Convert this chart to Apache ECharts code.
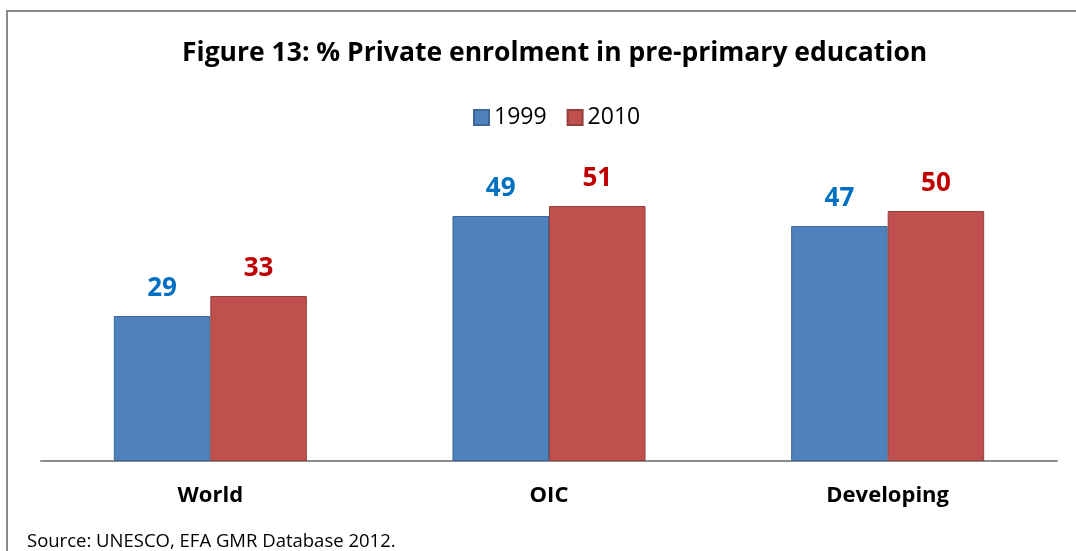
<!DOCTYPE html>
<html>
<head>
<meta charset="utf-8">
<script src="https://cdn.jsdelivr.net/npm/echarts@6/dist/echarts.min.js"></script>
<style>
  html, body { margin: 0; padding: 0; background: #fff; }
  #main { width: 1076px; height: 551px; }
</style>
</head>
<body>
<div id="main"></div>
<script>
// data
const categories = ['World', 'OIC', 'Developing'];
const years = ['1999', '2010'];
const values1999 = [29, 49, 47];
const values2010 = [33, 51, 50];

const FONT = '"Open Sans", "Noto Sans", sans-serif';

const myChart = echarts.init(document.getElementById('main'));

myChart.setOption({
    backgroundColor: '#ffffff',
    animation: false,
    title: {
        text: 'Figure 13: % Private enrolment in pre-primary education',
        left: 177,
        top: 35,
        textStyle: {fontFamily: FONT, fontSize: 26.5, fontWeight: 'bold', color: '#000'}
    },
    legend: {
        data: years,
        top: 101,
        left: 468,
        itemWidth: 15,
        itemHeight: 15,
        itemGap: 20,
        icon: 'rect',
        textStyle: {fontFamily: FONT, fontSize: 23, color: '#000'}
    },
    grid: {left: 41, right: 19, top: 161, bottom: 90},
    xAxis: {
        type: 'category',
        data: categories,
        axisTick: {show: false},
        axisLine: {lineStyle: {color: '#8c8c8c', width: 2}},
        axisLabel: {
            margin: 24,
            fontFamily: FONT, fontSize: 22, fontWeight: 'bold', color: '#000'
        }
    },
    yAxis: {
        type: 'value',
        min: 0,
        max: 60,
        show: false
    },
    series: [
        {
            name: '1999',
            type: 'bar',
            data: values1999,
            barGap: 0,
            barCategoryGap: '43%',
            itemStyle: {color: '#4f81bd', borderColor: '#3d6796', borderWidth: 1},
            label: {
                show: true, position: 'top', distance: 14,
                fontFamily: FONT, fontSize: 26, fontWeight: 'bold', color: '#0070c0'
            }
        },
        {
            name: '2010',
            type: 'bar',
            data: values2010,
            itemStyle: {color: '#c0504d', borderColor: '#93403d', borderWidth: 1},
            label: {
                show: true, position: 'top', distance: 14,
                fontFamily: FONT, fontSize: 26, fontWeight: 'bold', color: '#c00000'
            }
        }
    ],
    graphic: [
        {
            type: 'rect',
            shape: {x: 7, y: 11, width: 1100, height: 600},
            style: {fill: null, stroke: '#8a8a8a', lineWidth: 2},
            silent: true
        },
        {
            type: 'text',
            left: 27,
            top: 532,
            style: {
                text: 'Source: UNESCO, EFA GMR Database 2012.',
                fontFamily: FONT, fontSize: 18.5, fill: '#000'
            }
        }
    ]
});
</script>
</body>
</html>
